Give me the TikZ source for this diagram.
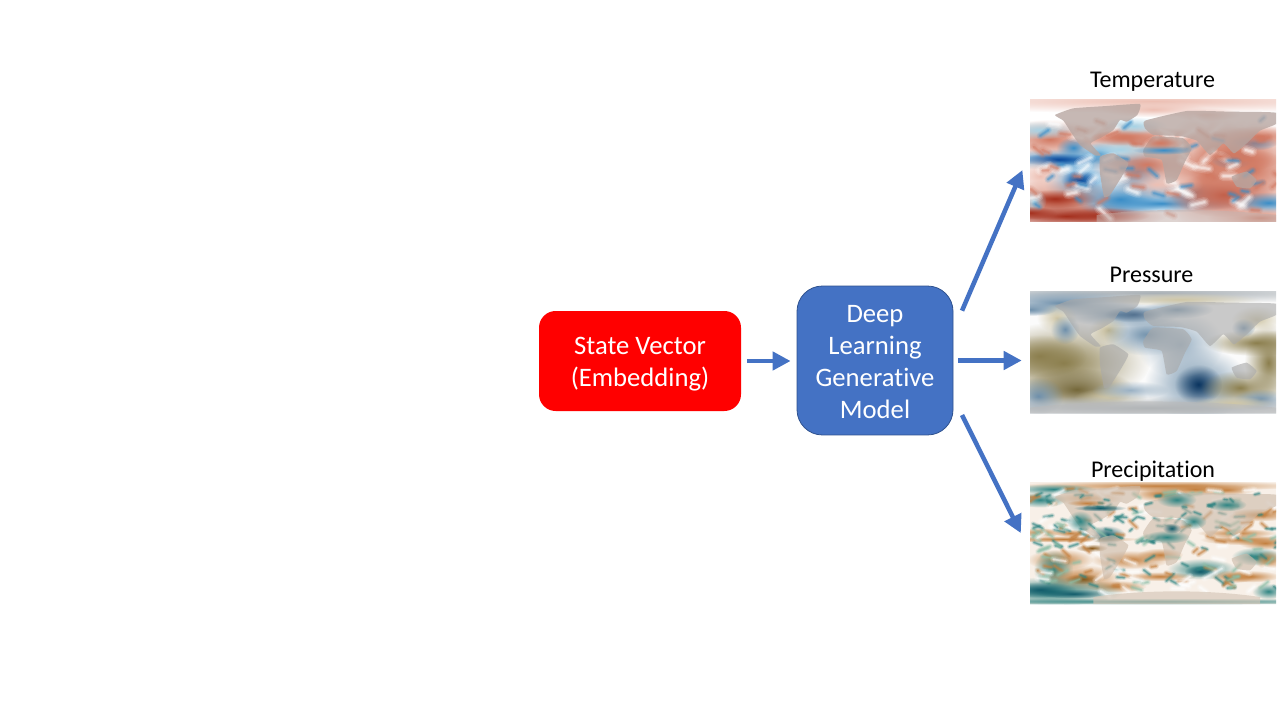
\documentclass[tikz,border=0pt]{standalone}
\usepackage{fontspec}
\setmainfont[Ligatures=NoCommon]{Carlito}
\usetikzlibrary{arrows.meta,fadings,calc}
\definecolor{flowblue}{HTML}{4472C4}
\definecolor{edgeblue}{HTML}{2F528F}
\definecolor{tred}{HTML}{D27A63}
\definecolor{tdark}{HTML}{A5301E}
\definecolor{tpink}{HTML}{EDC0B4}
\definecolor{tblue}{HTML}{3A8EC8}
\definecolor{tdeep}{HTML}{0D4A9C}
\definecolor{tlight}{HTML}{A7D3E6}
\definecolor{ptan}{HTML}{8C7F4E}
\definecolor{pdtan}{HTML}{75683A}
\definecolor{pltan}{HTML}{CFC6A6}
\definecolor{pblue}{HTML}{6F90AB}
\definecolor{pdark}{HTML}{0B3560}
\definecolor{pgray}{HTML}{A9B0B5}
\definecolor{rbrown}{HTML}{C4803F}
\definecolor{rdbrown}{HTML}{8A5A1C}
\definecolor{rteal}{HTML}{2F8583}
\definecolor{rdeep}{HTML}{125C6B}
\definecolor{rgreen}{HTML}{8DBFA8}
\tikzfading[name=blobfade, inner color=transparent!0, outer color=transparent!100]
\tikzset{
  x=0.75pt,y=-0.75pt,
  statebox/.style={draw=none,fill=red,rounded corners=12.5pt,minimum width=151.5pt,minimum height=75pt,align=center,text=white,font=\fontsize{20}{24}\selectfont,inner sep=0pt},
  modelbox/.style={draw=edgeblue,line width=0.6pt,fill=flowblue,rounded corners=19pt,minimum width=117pt,minimum height=111.7pt,align=center,text=white,font=\fontsize{20}{24}\selectfont,inner sep=0pt},
  flow/.style={draw=flowblue,line width=3.4pt,-{Triangle[length=13.5pt,width=13.5pt]}},
  maplabel/.style={text=black,font=\fontsize{18}{22}\selectfont,inner sep=0pt,anchor=base},
  mapframe/.style={draw=none,minimum width=184.5pt,minimum height=91.5pt,inner sep=0pt},
  land/.style={fill=#1,draw=none},
}
% all map art is written in zoomed units: 3 units = 1 reference pixel
\newcommand{\blobs}[1]{\foreach \bx/\by/\brx/\bry/\bc in {#1}{\fill[\bc,path fading=blobfade] (\bx,\by) ellipse [x radius=2*\brx,y radius=2*\bry];}}
% \flecks{seed}{count}{length}{width pt}{colour}{opacity}{v-low}{v-high}: soft slanted streaks, built of nested strokes
\newcommand{\flecks}[8]{%
  \pgfmathsetseed{#1}%
  \foreach \i in {1,...,#2}{%
    \pgfmathsetmacro\fx{rnd*738}%
    \pgfmathsetmacro\fy{#7+rnd*(#8-#7)}%
    \pgfmathsetmacro\fa{-45+rnd*90}%
    \pgfmathsetmacro\fl{#3*(0.6+0.8*rnd)}%
    \foreach \wf/\of in {2.4/.14,1.7/.2,1/.3,.5/.4}{%
      \draw[#5,opacity=#6*\of,line width=#4*\wf,line cap=round] (\fx,\fy) -- ++(\fa:\fl);
    }%
  }%
}
\newcommand{\continents}[2]{%
  \fill[land=#1,opacity=#2] plot[smooth cycle,tension=.25] coordinates{(75,45)(130,25)(230,18)(330,12)(322,45)(290,65)(270,60)(250,90)(215,112)(182,130)(212,165)(195,166)(150,135)(125,100)(100,62)};
  \fill[land=#1,opacity=#2] plot[smooth cycle,tension=.25] coordinates{(210,170)(250,160)(295,190)(275,230)(240,285)(222,290)(210,220)};
  \fill[land=#1,opacity=#2] plot[smooth cycle,tension=.25] coordinates{(340,150)(370,110)(460,115)(485,145)(465,185)(440,240)(410,250)(395,180)(345,170)};
  \fill[land=#1,opacity=#2] plot[smooth cycle,tension=.25] coordinates{(345,62)(470,33)(600,35)(738,38)(738,72)(690,92)(650,130)(612,160)(580,130)(540,165)(500,122)(450,108)(370,105)(345,85)};
  \fill[land=#1,opacity=#2] plot[smooth cycle,tension=.25] coordinates{(605,230)(650,215)(680,240)(660,265)(620,260)};
}
\begin{document}
\begin{tikzpicture}
\useasboundingbox (0,0) rectangle (1280,720);
\fill[white] (0,0) rectangle (1280,720);

\node[statebox] (state) at (640,361) {\rule{0pt}{17.75pt}State Vector\\(Embedding)};
\node[modelbox] (model) at (875,360.5) {\rule{0pt}{15.75pt}Deep\\Learning\\Generative\\Model};

\node[mapframe] (tempmap) at (1153,161) {};
\node[mapframe] (pressmap) at (1153,352) {};
\node[mapframe] (precipmap) at (1153,543) {};

\node[maplabel] (templabel) at (1152.5,87.5) {Temperature};
\node[maplabel] (presslabel) at (1151.5,282) {Pressure};
\node[maplabel] (preciplabel) at (1153,477) {Precipitation};

% Temperature map
\begin{scope}[shift={(1030,100)},x=0.25pt,y=-0.25pt]
\clip (0,0) rectangle (738,366);
\fill[white] (0,0) rectangle (738,366);
\begin{scope}[shift={(-30,-122)}]
\blobs{400/125/420/18/tpink,
 90/240/85/30/tred,310/232/85/22/tred,60/212/55/14/tlight,340/200/50/14/tlight,
 130/300/115/16/tblue,115/300/60/10/tdeep,180/365/55/34/tblue,178/362/28/15/tdeep,
 60/350/45/30/tpink,110/425/115/32/tred,105/418/65/14/tdark,140/470/150/20/tdark,
 40/425/20/18/tlight,300/420/70/26/tblue,350/350/45/42/tblue,425/432/115/14/tblue,
 490/397/68/16/tblue,610/405/80/34/tdark,700/330/95/75/tred,560/340/75/90/tred,
 380/315/85/32/tred,410/375/70/22/tpink,745/430/55/16/tblue,700/250/36/12/tblue,
 635/300/32/14/tblue,160/265/26/16/tblue,240/282/30/16/tblue,
 300/270/60/18/tlight,720/230/60/16/tred,680/300/50/16/tred,
 720/475/80/16/tred,440/240/60/18/tred,30/460/40/10/tdark,
 250/468/70/12/tdark,400/150/80/12/tpink,560/165/50/10/tpink,640/280/60/40/tred}
\end{scope}
\flecks{11}{45}{34}{3.2}{white}{1}{50}{330}
\flecks{12}{22}{24}{2.2}{tblue}{.9}{60}{320}
\flecks{13}{28}{26}{2.6}{tred}{.9}{60}{340}
\continents{gray!72!tred!70!white}{.78}
\fill[gray!65!tred!60!white,opacity=.55] (200,366) -- (200,345) .. controls (300,330) and (500,320) .. (738,345) -- (738,366) -- cycle;
\begin{scope}[shift={(-30,-122)}]
\blobs{430/272/46/7/tblue,310/235/50/12/tred,420/250/35/10/tred,600/290/25/8/tred}
\end{scope}
\end{scope}

% Pressure map
\begin{scope}[shift={(1030,291)},x=0.25pt,y=-0.25pt]
\clip (0,0) rectangle (738,366);
\fill[white!97!gray] (0,0) rectangle (738,366);
\begin{scope}[shift={(-30,-95)}]
\blobs{400/100/420/16/pgray,120/130/120/20/pblue,300/165/90/18/pblue,340/165/44/12/pdark!70,
 470/150/55/14/pblue,480/120/120/10/pltan,
 130/310/130/62/ptan,60/290/70/32/ptan,170/390/85/32/pdtan,270/415/55/15/pltan,
 55/410/38/28/pblue,330/392/58/14/pblue!70,530/372/78/55/pblue,535/375/36/30/pdark,
 660/385/60/26/ptan,710/250/80/20/ptan,745/310/36/60/ptan,710/180/38/20/pltan,
 110/175/30/22/pltan,265/212/30/20/pltan!80!ptan,380/225/65/32/pblue,
 480/255/65/50/pblue!70,135/210/22/22/pblue,670/205/18/14/pblue,
 720/420/40/16/pblue,30/150/40/10/pblue,400/445/420/18/pgray,640/430/60/10/pltan}
\end{scope}
\continents{gray!68!white}{.6}
\fill[gray!55!white,opacity=.5] (0,366) -- (0,350) .. controls (200,325) and (500,325) .. (738,350) -- (738,366) -- cycle;
\end{scope}

% Precipitation map
\begin{scope}[shift={(1030,482)},x=0.25pt,y=-0.25pt]
\clip (0,0) rectangle (738,366);
\fill[white!88!rbrown] (0,0) rectangle (738,366);
\begin{scope}[shift={(-30,-97)}]
\blobs{420/108/220/8/rbrown,420/132/45/12/rbrown,525/118/55/10/rbrown,620/120/45/8/rbrown,
 100/118/65/8/rteal,60/150/40/12/rteal,200/145/55/10/rbrown!70,
 60/248/35/7/rbrown,150/250/25/6/rbrown,130/268/120/5/rbrown,
 215/295/24/6/rdbrown,260/255/28/14/rdeep,
 650/250/60/7/rbrown,720/195/50/10/rbrown,735/280/40/10/rbrown,670/270/65/8/rbrown,
 120/330/50/16/rbrown,330/330/60/14/rbrown,420/315/35/10/rbrown,
 100/360/30/30/rteal,180/385/62/20/rbrown,190/388/28/8/rdbrown,
 290/410/45/9/rbrown,420/380/55/7/rbrown,
 545/358/52/16/rteal,540/365/24/9/rdeep,640/380/35/10/rbrown,710/320/38/14/rteal,
 690/380/45/9/rbrown,745/330/22/14/rbrown,
 90/425/110/22/rteal,60/420/55/12/rdeep,160/432/55/7/rdeep,400/455/420/5/rteal,
 745/425/25/12/rteal}
\end{scope}
\flecks{21}{70}{24}{1.5}{rteal}{1}{30}{320}
\flecks{22}{45}{24}{1.8}{rbrown}{1}{20}{320}
\flecks{23}{50}{26}{1.8}{rgreen}{1}{30}{320}
\flecks{24}{50}{30}{2.2}{white}{1}{20}{330}
\continents{gray!52!rbrown!55!white}{.6}
\fill[gray!50!rbrown!45!white,opacity=.65] (190,366) -- (190,345) .. controls (320,325) and (520,320) .. (690,345) -- (690,366) -- cycle;
\flecks{25}{30}{16}{1.4}{rteal}{1}{30}{150}
\begin{scope}[shift={(-30,-97)}]
\blobs{455/236/14/8/rdeep,440/262/35/10/rteal,180/215/20/16/rteal,520/215/20/12/rteal,
 470/150/30/12/rteal,620/165/30/10/rteal,240/175/40/5/rdeep,200/160/30/5/rbrown}
\end{scope}
\end{scope}

% Connectors
\draw[flow,shorten <=4.5pt,shorten >=4.5pt] (state.east) -- (state.east -| model.west);
\draw[flow,shorten <=16.4pt,shorten >=13.9pt] ([yshift=22.3pt]model.east) -- ([yshift=6pt]tempmap.west);
\draw[flow,shorten <=3.75pt,shorten >=6pt] (model.east) -- ([yshift=-6.375pt]pressmap.west);
\draw[flow,shorten <=14.5pt,shorten >=15pt] ([yshift=-27.9pt]model.east) -- ([yshift=-6pt]precipmap.west);
\end{tikzpicture}
\end{document}
